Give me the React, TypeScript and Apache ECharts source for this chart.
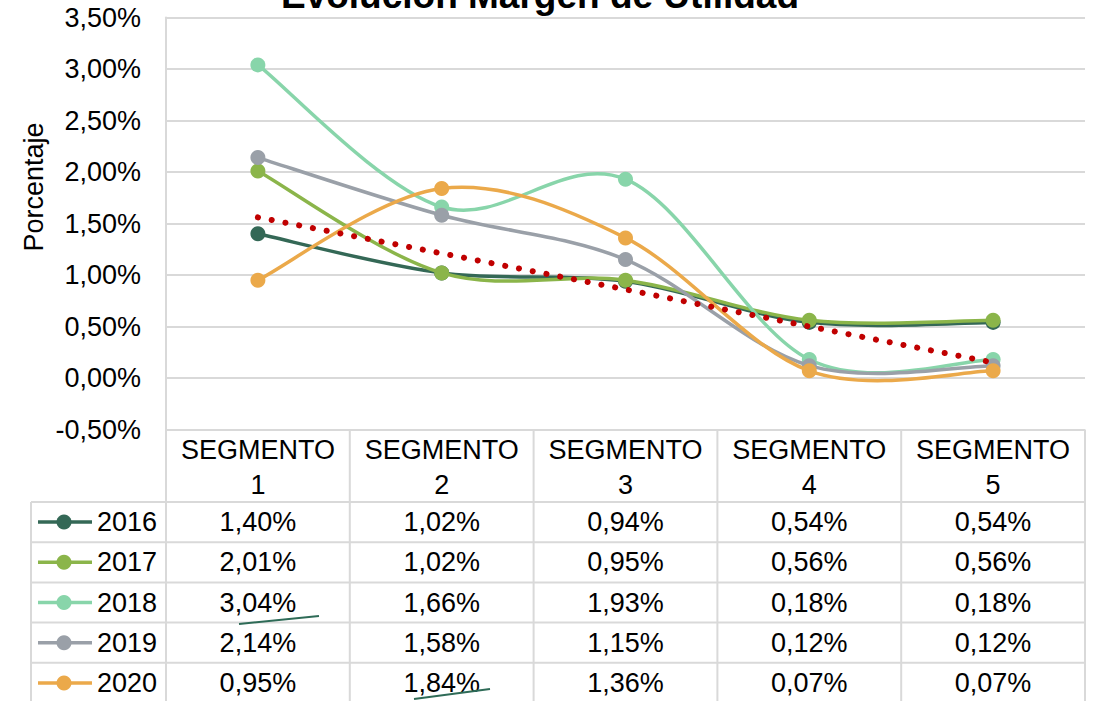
import React, { useEffect, useRef } from "react";
import * as echarts from "echarts";

const TITLE = "Evolución Margen de Utilidad";
const Y_NAME = "Porcentaje";
const categories = ["SEGMENTO 1", "SEGMENTO 2", "SEGMENTO 3", "SEGMENTO 4", "SEGMENTO 5"];
const years = ["2016", "2017", "2018", "2019", "2020"];
const v2016 = [1.4, 1.02, 0.94, 0.54, 0.54];
const v2017 = [2.01, 1.02, 0.95, 0.56, 0.56];
const v2018 = [3.04, 1.66, 1.93, 0.18, 0.18];
const v2019 = [2.14, 1.58, 1.15, 0.12, 0.12];
const v2020 = [0.95, 1.84, 1.36, 0.07, 0.07];
const seriesValues = [v2016, v2017, v2018, v2019, v2020];
const trend2020 = [1.56, 1.21, 0.86, 0.5, 0.15];
const yMin = -0.5;
const yMax = 3.5;
const yStep = 0.5;

const colors = ["#346856", "#8bb54a", "#88d5aa", "#9aa0a8", "#eba94a"];
const trendColor = "#c00000";
const gridColor = "#d9d9d9";
const FONT = "'Liberation Sans', Arial, Helvetica, sans-serif";

const W = 1105;
const H = 701;
const PL = 166;
const PR = 1085;
const PT = 17.5;
const PB = 429.5;
const ROW_TOP = 502;
const ROW_H = 40.2;
const LEG_L = 31;
const LINE_W = 3.5;
const MARK_R = 7.5;

const fmt = (v: number) => v.toFixed(2).replace(".", ",") + "%";

// Excel-like smoothed line: cubic Bezier segments, Catmull-Rom tangents (1/6 of neighbour chord)
function makeRenderItem(values: number[], color: string) {
  return (params: any, api: any) => {
    const n = values.length;
    const pts = values.map((v, i) => api.coord([i, v]));
    const i = params.dataIndex;
    const children: any[] = [];
    if (i < n - 1) {
      const p0 = pts[Math.max(i - 1, 0)];
      const p1 = pts[i];
      const p2 = pts[i + 1];
      const p3 = pts[Math.min(i + 2, n - 1)];
      children.push({
        type: "bezierCurve",
        shape: {
          x1: p1[0],
          y1: p1[1],
          x2: p2[0],
          y2: p2[1],
          cpx1: p1[0] + (p2[0] - p0[0]) / 6,
          cpy1: p1[1] + (p2[1] - p0[1]) / 6,
          cpx2: p2[0] - (p3[0] - p1[0]) / 6,
          cpy2: p2[1] - (p3[1] - p1[1]) / 6,
        },
        style: { stroke: color, lineWidth: LINE_W, fill: "none", lineCap: "round" },
      });
    }
    children.push({
      type: "circle",
      shape: { cx: pts[i][0], cy: pts[i][1], r: MARK_R },
      style: { fill: color, stroke: "none" },
    });
    return { type: "group", children };
  };
}

export default function App() {
  const ref = useRef<HTMLDivElement>(null);
  useEffect(() => {
    document.body.style.margin = "0";
    const chart = echarts.init(ref.current!, null, { renderer: "svg" });
    const cw = (PR - PL) / categories.length;
    const g: any[] = [];
    const lineStyle = { stroke: gridColor, lineWidth: 2 };
    for (let i = 0; i <= categories.length; i++) {
      const x = PL + i * cw;
      g.push({ type: "line", shape: { x1: x, y1: PB, x2: x, y2: H }, style: lineStyle, silent: true });
    }
    g.push({ type: "line", shape: { x1: LEG_L, y1: ROW_TOP, x2: LEG_L, y2: H }, style: lineStyle, silent: true });
    for (let r = 0; r < years.length; r++) {
      const y = ROW_TOP + r * ROW_H;
      g.push({ type: "line", shape: { x1: LEG_L, y1: y, x2: PR, y2: y }, style: lineStyle, silent: true });
    }
    years.forEach((yr, r) => {
      const cy = ROW_TOP + r * ROW_H + ROW_H / 2;
      g.push({
        type: "line",
        shape: { x1: 38, y1: cy, x2: 92, y2: cy },
        style: { stroke: colors[r], lineWidth: LINE_W },
        silent: true,
      });
      g.push({ type: "circle", shape: { cx: 64, cy, r: MARK_R }, style: { fill: colors[r] }, silent: true });
      g.push({
        type: "text",
        x: 97,
        y: cy,
        style: { text: yr, fontSize: 27, fontFamily: FONT, fill: "#000", align: "left", verticalAlign: "middle" },
        silent: true,
      });
      seriesValues[r].forEach((v, i) => {
        g.push({
          type: "text",
          x: PL + i * cw + cw / 2,
          y: cy,
          style: { text: fmt(v), fontSize: 27, fontFamily: FONT, fill: "#000", align: "center", verticalAlign: "middle" },
          silent: true,
        });
      });
    });
    g.push({ type: "line", shape: { x1: 239, y1: 624, x2: 319, y2: 616 }, style: { stroke: "#2e6b57", lineWidth: 2 }, silent: true });
    g.push({ type: "line", shape: { x1: 414, y1: 699, x2: 490, y2: 689 }, style: { stroke: "#2e6b57", lineWidth: 2 }, silent: true });
    g.push({
      type: "text",
      x: 540,
      y: -5,
      style: { text: TITLE, fontSize: 37, fontWeight: "bold", fontFamily: FONT, fill: "#000", align: "center", verticalAlign: "middle" },
      silent: true,
    });
    g.push({
      type: "text",
      x: 34,
      y: 187,
      rotation: Math.PI / 2,
      style: { text: Y_NAME, fontSize: 27, fontFamily: FONT, fill: "#000", align: "center", verticalAlign: "middle" },
      silent: true,
    });

    const series: any[] = years.map((yr, r) => ({
      name: yr,
      type: "custom",
      coordinateSystem: "cartesian2d",
      data: seriesValues[r].map((v, i) => [i, v]),
      encode: { x: 0, y: 1 },
      renderItem: makeRenderItem(seriesValues[r], colors[r]),
      z: 2 + r,
    }));
    series.push({
      name: "Lineal (2020)",
      type: "line",
      data: trend2020,
      symbol: "none",
      lineStyle: { color: trendColor, width: 6, type: [0.1, 13.9], cap: "round" },
      z: 10,
    });

    chart.setOption({
      animation: false,
      grid: { left: PL, right: W - PR, top: PT, bottom: H - PB, containLabel: false },
      xAxis: {
        type: "category",
        data: categories,
        boundaryGap: true,
        axisLine: { show: false },
        axisTick: { show: false },
        axisLabel: {
          interval: 0,
          margin: 3,
          fontSize: 27,
          lineHeight: 35,
          fontFamily: FONT,
          color: "#000",
          formatter: (v: string) => v.replace(" ", "\n"),
        },
      },
      yAxis: {
        type: "value",
        min: yMin,
        max: yMax,
        interval: yStep,
        axisLine: { show: true, lineStyle: { color: gridColor, width: 2 } },
        axisTick: { show: false },
        splitLine: { show: true, lineStyle: { color: gridColor, width: 2 } },
        axisLabel: {
          margin: 25,
          fontSize: 27,
          fontFamily: FONT,
          color: "#000",
          formatter: (v: number) => fmt(v),
        },
      },
      series,
      graphic: g,
    });
    return () => chart.dispose();
  }, []);
  return <div ref={ref} style={{ width: W, height: H }} />;
}
